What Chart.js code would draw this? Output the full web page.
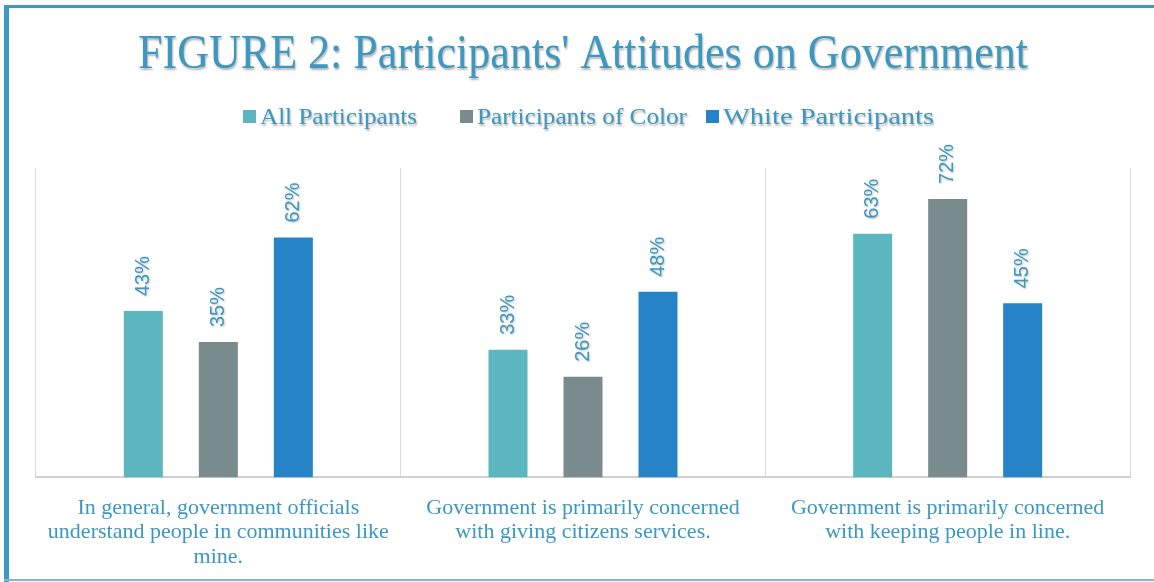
<!DOCTYPE html>
<html>
<head>
<meta charset="utf-8">
<script src="https://cdn.jsdelivr.net/npm/chart.js@4/dist/chart.umd.min.js"></script>
<style>
  html, body { margin: 0; padding: 0; background: #ffffff; }
  #wrap { position: relative; width: 1154px; height: 582px; }
</style>
</head>
<body>
<div id="wrap"><canvas id="c"></canvas></div>
<script>
// ---- Data ----
const chartTitle = "FIGURE 2: Participants' Attitudes on Government";
const categories = [
  ["In general, government officials", "understand people in communities like", "mine."],
  ["Government is primarily concerned", "with giving citizens services."],
  ["Government is primarily concerned", "with keeping people in line."]
];
const seriesNames = ["All Participants", "Participants of Color", "White Participants"];
const allParticipants = [43, 33, 63];
const participantsOfColor = [35, 26, 72];
const whiteParticipants = [62, 48, 45];
const yMax = 80;

// ---- Styles ----
const seriesColors = ["#5bb6bf", "#7a8b8e", "#2683c6"];
const textColor = "#3c97c1";
const serif = "'Liberation Serif', 'Times New Roman', serif";
const sans = "'Liberation Sans', Arial, sans-serif";

function drawCondensed(ctx, text, x, y, size, targetWidth, align) {
  ctx.save();
  ctx.font = size + "px " + serif;
  const w = ctx.measureText(text).width;
  const sx = targetWidth ? targetWidth / w : 0.85;
  ctx.translate(x, y);
  ctx.scale(sx, 1);
  ctx.textAlign = align || "left";
  ctx.textBaseline = "alphabetic";
  ctx.shadowColor = "rgba(0,0,0,0.30)";
  ctx.shadowOffsetX = 1;
  ctx.shadowOffsetY = 2;
  ctx.shadowBlur = 2;
  ctx.fillStyle = textColor;
  ctx.fillText(text, 0, 0);
  ctx.restore();
  return w * sx;
}

const framePlugin = {
  id: "frame",
  beforeDraw(chart) {
    const ctx = chart.ctx;
    ctx.save();
    ctx.fillStyle = "#ffffff";
    ctx.fillRect(0, 0, chart.width, chart.height);
    ctx.fillStyle = "#3a9ac4";
    ctx.fillRect(4, 5, chart.width - 4, 3);
    ctx.fillRect(4, 5, 5, chart.height - 5);
    ctx.fillStyle = "#7dbad6";
    ctx.fillRect(4, 579, chart.width - 4, 2);
    ctx.restore();
  }
};

const headerPlugin = {
  id: "header",
  afterDraw(chart) {
    const ctx = chart.ctx;
    // title
    drawCondensed(ctx, chartTitle, 583, 68, 48, 890, "center");
    // legend
    const boxX = [243, 460, 706];
    const textW = [157, 210, 211];
    seriesNames.forEach((name, i) => {
      ctx.save();
      ctx.fillStyle = seriesColors[i];
      ctx.fillRect(boxX[i], 110, 13, 13);
      ctx.restore();
      drawCondensed(ctx, name, boxX[i] + 17, 124, 24, textW[i], "left");
    });
  }
};

const valueLabelPlugin = {
  id: "valueLabels",
  afterDatasetsDraw(chart) {
    const ctx = chart.ctx;
    chart.data.datasets.forEach((ds, di) => {
      const meta = chart.getDatasetMeta(di);
      meta.data.forEach((el, i) => {
        ctx.save();
        ctx.translate(el.x, el.y - 15);
        ctx.rotate(-Math.PI / 2);
        ctx.font = "20px " + sans;
        ctx.textAlign = "left";
        ctx.textBaseline = "middle";
        ctx.shadowColor = "rgba(0,0,0,0.25)";
        ctx.shadowOffsetX = 1;
        ctx.shadowOffsetY = 1;
        ctx.shadowBlur = 2;
        ctx.fillStyle = textColor;
        ctx.fillText(ds.data[i] + "%", 0, 0);
        ctx.restore();
      });
    });
  }
};

const seriesData = [allParticipants, participantsOfColor, whiteParticipants];

new Chart(document.getElementById("c"), {
  type: "bar",
  data: {
    labels: categories,
    datasets: seriesNames.map((name, i) => ({
      label: name,
      data: seriesData[i],
      backgroundColor: seriesColors[i],
      borderWidth: 0,
      categoryPercentage: 0.617,
      barPercentage: 0.52
    }))
  },
  options: {
    responsive: true,
    maintainAspectRatio: false,
    animation: false,
    layout: { padding: { top: 168, left: 36, right: 24, bottom: -6 } },
    plugins: {
      legend: { display: false },
      title: { display: false },
      tooltip: { enabled: false }
    },
    scales: {
      x: {
        grid: { display: true, offset: true, color: "#d9d9d9", lineWidth: 1, drawTicks: false },
        border: { display: true, color: "#d0d0d0", width: 2 },
        ticks: {
          color: textColor,
          padding: 19,
          maxRotation: 0,
          autoSkip: false,
          font: { family: serif, size: 22, lineHeight: 1.1 }
        }
      },
      y: {
        display: false,
        min: 0,
        max: yMax,
        grid: { display: false }
      }
    }
  },
  plugins: [framePlugin, headerPlugin, valueLabelPlugin]
});
</script>
</body>
</html>
